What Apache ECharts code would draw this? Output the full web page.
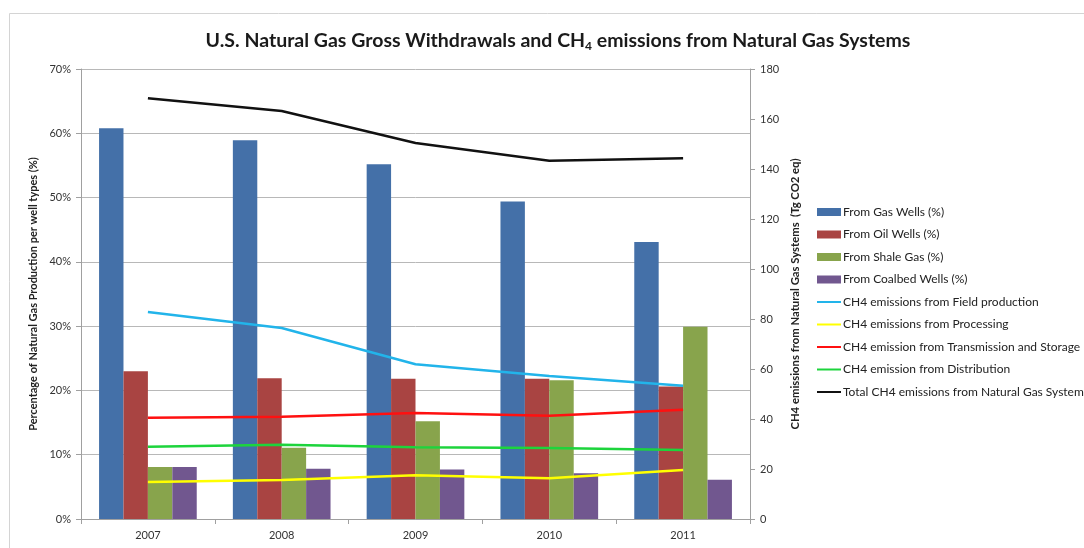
<!DOCTYPE html>
<html><head><meta charset="utf-8">
<script src="https://cdn.jsdelivr.net/npm/echarts@6/dist/echarts.min.js"></script>
<style>html,body{margin:0;padding:0;background:#fff}#c{width:1084px;height:548px}</style>
</head><body><div id="c"></div>
<script>
const years = ['2007','2008','2009','2010','2011'];
const gasWells = [60.8, 58.9, 55.2, 49.4, 43.1];
const oilWells = [23.0, 21.9, 21.8, 21.8, 20.6];
const shaleGas = [8.1, 11.1, 15.2, 21.6, 29.9];
const coalbedWells = [8.1, 7.8, 7.7, 7.1, 6.1];
const fieldProduction = [82.8, 76.4, 61.9, 57.2, 53.3];
const processing = [14.8, 15.6, 17.5, 16.3, 19.6];
const transmissionStorage = [40.5, 40.9, 42.4, 41.3, 43.7];
const distribution = [28.9, 29.7, 28.7, 28.4, 27.6];
const totalEmissions = [168.3, 163.2, 150.4, 143.3, 144.3];
const leftTicks = [0, 10, 20, 30, 40, 50, 60, 70];
const rightTicks = [0, 20, 40, 60, 80, 100, 120, 140, 160, 180];

const FONT = 'Lato, "Open Sans", sans-serif';
const chart = echarts.init(document.getElementById('c'));
function bar(name, data, color){
  return {name, type:'bar', yAxisIndex:0, data, barGap:'0%', barCategoryGap:'27%',
    itemStyle:{color}, emphasis:{disabled:true}};
}
function line(name, data, color){
  return {name, type:'line', yAxisIndex:1, data, symbol:'none', smooth:false,
    lineStyle:{color, width:2.5}, itemStyle:{color}, emphasis:{disabled:true}, z:5};
}
chart.setOption({
  animation:false,
  backgroundColor:'#fff',
  textStyle:{fontFamily:FONT},
  graphic:[{type:'rect', shape:{x:9.5,y:13.5,width:1100,height:560}, style:{fill:'none', stroke:'#d4d4d4', lineWidth:1}, silent:true}],
  title:{
    text:'{a|U.S. Natural Gas Gross Withdrawals and CH}{s|4}{a| emissions from Natural Gas Systems}',
    left:553, top:24, textAlign:'center',
    textStyle:{rich:{
      a:{fontFamily:FONT, fontSize:19.5, fontWeight:'bold', color:'#1a1a1a'},
      s:{fontFamily:FONT, fontSize:12, fontWeight:'bold', color:'#1a1a1a', padding:[11,0,0,0]}
    }}
  },
  legend:{
    orient:'vertical', left:811, top:201, itemWidth:24, itemHeight:8, itemGap:10.5,
    textStyle:{fontFamily:FONT, fontSize:12, color:'#222', padding:[0,0,0,-3]},
    data:['From Gas Wells (%)','From Oil Wells (%)','From Shale Gas (%)','From Coalbed Wells (%)',
      'CH4 emissions from Field production','CH4 emissions from Processing',
      'CH4 emission from Transmission and Storage','CH4 emission from Distribution',
      'Total CH4 emissions from Natural Gas Systems'].map(n=> n.indexOf('(%)')>0 ? {name:n, icon:'rect'} : {name:n, itemStyle:{opacity:0}})
  },
  grid:{left:81, right:334, top:69, bottom:29},
  xAxis:{type:'category', data:years, boundaryGap:true,
    axisLine:{lineStyle:{color:'#a0a0a0'}},
    axisTick:{show:true, alignWithLabel:false, length:5, lineStyle:{color:'#a0a0a0'}},
    axisLabel:{fontFamily:FONT, fontSize:11, color:'#333', margin:11}},
  yAxis:[
    {type:'value', min:leftTicks[0], max:leftTicks[leftTicks.length-1], interval:10,
      name:'Percentage of Natural Gas Production per well types (%)', nameLocation:'middle', nameGap:38, nameRotate:90,
      nameTextStyle:{fontFamily:FONT, fontSize:11, fontWeight:'bold', color:'#222'},
      axisLine:{show:true, lineStyle:{color:'#a0a0a0'}},
      axisTick:{show:true, length:5, lineStyle:{color:'#a0a0a0'}},
      axisLabel:{fontFamily:FONT, fontSize:11, color:'#333', formatter:v=>v+'%', margin:10},
      splitLine:{lineStyle:{color:'#b8b8b8', width:1}}},
    {type:'value', min:rightTicks[0], max:rightTicks[rightTicks.length-1], interval:20, position:'right',
      name:'CH4 emissions from Natural Gas Systems  (Tg CO2 eq)', nameLocation:'middle', nameGap:38, nameRotate:90,
      nameTextStyle:{fontFamily:FONT, fontSize:11.3, fontWeight:'bold', color:'#222'},
      axisLine:{show:true, lineStyle:{color:'#a0a0a0'}},
      axisTick:{show:true, length:5, lineStyle:{color:'#a0a0a0'}},
      axisLabel:{fontFamily:FONT, fontSize:11, color:'#333', margin:10},
      splitLine:{show:false}}
  ],
  series:[
    bar('From Gas Wells (%)', gasWells, '#4470a8'),
    bar('From Oil Wells (%)', oilWells, '#a94442'),
    bar('From Shale Gas (%)', shaleGas, '#88a44c'),
    bar('From Coalbed Wells (%)', coalbedWells, '#71578f'),
    line('CH4 emissions from Field production', fieldProduction, '#22b4ea'),
    line('CH4 emissions from Processing', processing, '#ffff00'),
    line('CH4 emission from Transmission and Storage', transmissionStorage, '#ff1010'),
    line('CH4 emission from Distribution', distribution, '#1dd43c'),
    line('Total CH4 emissions from Natural Gas Systems', totalEmissions, '#111111')
  ]
});
</script></body></html>
